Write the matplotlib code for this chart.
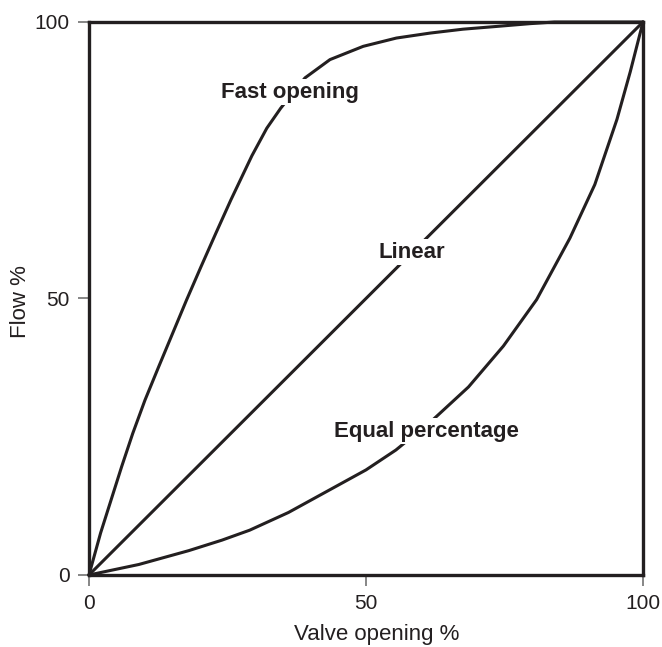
import numpy as np
import matplotlib
matplotlib.use('Agg')
import matplotlib.pyplot as plt

# curves (valve opening %, flow %)
fastX = [0, 2.1, 4.0, 5.9, 7.9, 10.1, 12.6, 15.1, 17.6, 20.2, 22.9, 25.6, 29.4,
	32.1, 34.6, 39, 43.5, 49.5, 55.5, 61.6, 67.5, 73.6, 79.6, 84, 100]
fastY = [0, 7.6, 13.6, 19.6, 25.6, 31.6, 37.7, 43.7, 49.7, 55.7, 61.8, 67.8, 75.8,
	80.8, 84.4, 89.9, 93.2, 95.6, 97.1, 98.0, 98.7, 99.2, 99.7, 100, 100]

linX = [0, 100]
linY = [0, 100]

eqX = [0, 9, 18, 24, 29, 36, 50, 55.4, 62, 68.5, 74.8, 80.8, 86.8, 91.3, 95.3, 97.7, 100]
eqY = [0, 1.9, 4.4, 6.3, 8.1, 11.3, 19, 22.6, 28.0, 34, 41.4, 49.8, 60.9, 70.6, 82.4, 91.0, 100]

ticks = [0, 50, 100]

INK = '#231f20'

def main():
	plt.rcParams['font.family'] = ['Liberation Sans', 'DejaVu Sans']
	fig = plt.figure(figsize=(6.62, 6.47), dpi=100)
	ax = fig.add_axes([0.1344, 0.1113, 0.8369, 0.8547])

	for xs, ys in [(fastX, fastY), (linX, linY), (eqX, eqY)]:
		ax.plot(xs, ys, color=INK, lw=2.2, solid_capstyle='round',
			solid_joinstyle='round', zorder=2, clip_on=False)

	box = dict(facecolor='white', edgecolor='none', pad=2)
	ax.text(36.3, 87.3, 'Fast opening', ha='center', va='center', fontsize=16,
		fontweight='bold', color=INK, bbox=box, zorder=3)
	ax.text(58.3, 58.4, 'Linear', ha='center', va='center', fontsize=16,
		fontweight='bold', color=INK, bbox=box, zorder=3)
	ax.text(60.9, 26.0, 'Equal percentage', ha='center', va='center', fontsize=16,
		fontweight='bold', color=INK, bbox=box, zorder=3)

	ax.set_xlim(0, 100)
	ax.set_ylim(0, 100)
	ax.set_xticks(ticks)
	ax.set_yticks(ticks)
	ax.tick_params(direction='out', length=8, width=1.1, color='#666666',
		labelsize=15, labelcolor=INK, pad=6)
	for s in ax.spines.values():
		s.set_linewidth(2.4)
		s.set_color(INK)

	ax.set_xlabel('Valve opening %', fontsize=16, color=INK)
	ax.set_ylabel('Flow %', fontsize=16, color=INK)
	ax.xaxis.set_label_coords(0.52, -0.089)
	ax.yaxis.set_label_coords(-0.104, 0.494)

	plt.savefig('out.png', dpi=100)

if __name__ == "__main__":
	main()
